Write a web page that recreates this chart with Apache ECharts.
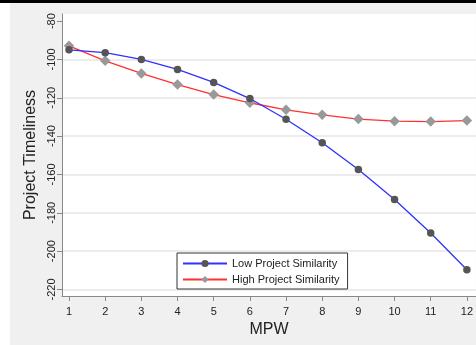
<!DOCTYPE html>
<html>
<head>
<meta charset="utf-8">
<script src="https://cdn.jsdelivr.net/npm/echarts@6/dist/echarts.min.js"></script>
<style>
  html, body { margin: 0; padding: 0; background: #fff; }
  #chart { width: 476px; height: 345px; }
</style>
</head>
<body>
<div id="chart"></div>
<script>
const mpw = [1, 2, 3, 4, 5, 6, 7, 8, 9, 10, 11, 12]
const lowSimilarity = [-95, -96.5, -100, -105.2, -112, -120.4, -131.2, -143.5, -157.4, -173.1, -190.5, -209.7]
const highSimilarity = [-92.9, -100.7, -107.3, -113.1, -118.3, -122.6, -126.3, -128.9, -131.1, -132.2, -132.4, -131.9]
const yTicks = [-220, -200, -180, -160, -140, -120, -100, -80]
const gridTicks = [-220, -200, -180, -160, -140, -120, -100]

const chart = echarts.init(document.getElementById('chart'))
const font = 'Liberation Sans, Arial, sans-serif'

chart.setOption({
  backgroundColor: '#f0f0f0',
  animation: false,
  textStyle: { fontFamily: font },
  graphic: [
    // strips round the figure
    { type: 'rect', shape: { x: 0, y: 0, width: 10, height: 345 }, style: { fill: '#fff' }, silent: true },
    { type: 'rect', shape: { x: 0, y: 0, width: 476, height: 3 }, style: { fill: '#000' }, silent: true },
  ],
  grid: {
    left: 62,
    top: 14,
    right: 0,
    bottom: 49,
    show: true,
    backgroundColor: '#fff',
    borderWidth: 0,
  },
  legend: {
    orient: 'vertical',
    left: 177,
    top: 253,
    width: 175,
    padding: [5, 8, 4, 5],
    itemGap: 5,
    itemWidth: 44,
    itemHeight: 9,
    backgroundColor: '#fff',
    borderColor: '#333',
    borderWidth: 1,
    textStyle: { fontSize: 11, color: '#222', fontFamily: font },
    data: ['Low Project Similarity', 'High Project Similarity'],
  },
  xAxis: {
    type: 'value',
    min: 0.806,
    max: 12.25,
    name: 'MPW',
    nameLocation: 'middle',
    nameGap: 24,
    nameTextStyle: { fontSize: 16, color: '#222' },
    axisLine: { lineStyle: { color: '#888' } },
    axisTick: { length: 5, lineStyle: { color: '#888' }, customValues: mpw },
    axisLabel: { fontSize: 11, color: '#222', margin: 10, customValues: mpw },
    splitLine: { show: false },
  },
  yAxis: [
    {
      type: 'value',
      min: -223.4,
      max: -76.3,
      name: 'Project Timeliness',
      nameLocation: 'middle',
      nameGap: 15,
      nameTextStyle: { fontSize: 16, color: '#222' },
      axisLine: { show: true, lineStyle: { color: '#888' } },
      axisTick: { show: true, length: 5, lineStyle: { color: '#888' }, customValues: yTicks },
      axisLabel: { fontSize: 11, color: '#222', rotate: 90, margin: 5, customValues: yTicks },
      splitLine: { show: false },
    },
    {
      type: 'value',
      min: -223.4,
      max: -76.3,
      position: 'left',
      axisLine: { show: false },
      axisTick: { show: false, customValues: gridTicks },
      axisLabel: { show: false, customValues: gridTicks },
      splitLine: { show: true, lineStyle: { color: '#e6e6e6', width: 1.5 } },
    },
  ],
  series: [
    {
      name: 'Low Project Similarity',
      type: 'line',
      data: mpw.map((x, i) => [x, lowSimilarity[i]]),
      symbol: 'circle',
      symbolSize: 7.5,
      z: 3,
      lineStyle: { color: '#3030ff', width: 1.3 },
      itemStyle: { color: '#555' },
    },
    {
      name: 'High Project Similarity',
      type: 'line',
      data: mpw.map((x, i) => [x, highSimilarity[i]]),
      symbol: 'diamond',
      symbolSize: 10.5,
      z: 2,
      lineStyle: { color: '#ff3030', width: 1.3 },
      itemStyle: { color: '#999' },
    },
  ],
})
</script>
</body>
</html>
